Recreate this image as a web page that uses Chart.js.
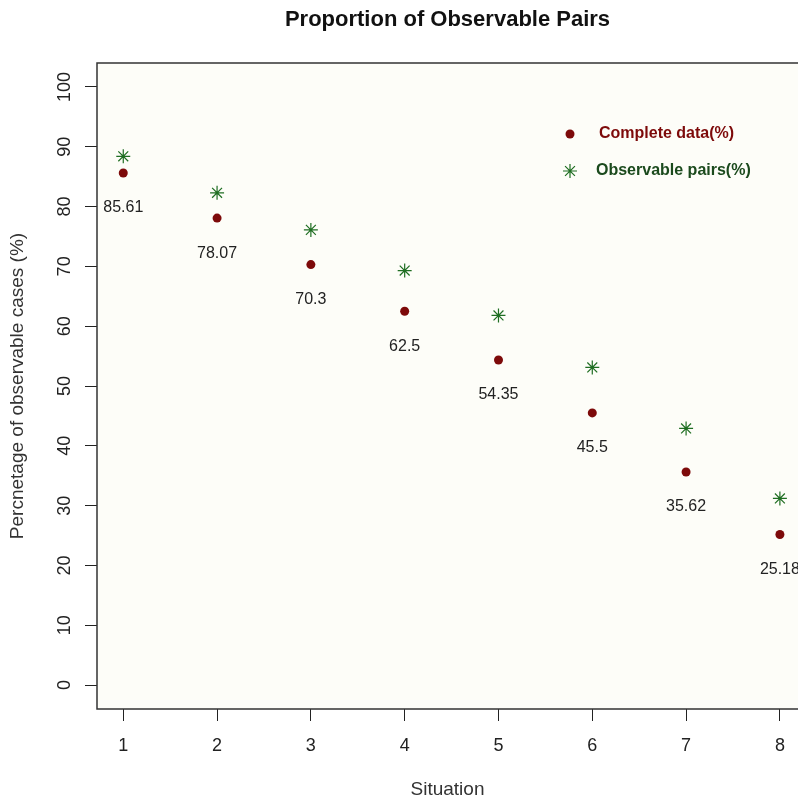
<!DOCTYPE html>
<html>
<head>
<meta charset="utf-8">
<script src="https://cdn.jsdelivr.net/npm/chart.js@4/dist/chart.umd.min.js"></script>
<style>
  html, body { margin: 0; padding: 0; background: #fff; overflow: hidden; }
</style>
</head>
<body>
<canvas id="chart" width="798" height="801"></canvas>
<script>
    const situations = [1, 2, 3, 4, 5, 6, 7, 8];
    const completeData = [85.61, 78.07, 70.3, 62.5, 54.35, 45.5, 35.62, 25.18];
    const observablePairs = [88.4, 82.3, 76.1, 69.3, 61.8, 53.1, 42.9, 31.2];
    const yTicks = [0, 10, 20, 30, 40, 50, 60, 70, 80, 90, 100];
    const xTicks = [1, 2, 3, 4, 5, 6, 7, 8];

    const darkRed = '#7d0a0a';
    const darkGreen = '#1f6e22';
    const fontFam = '"Liberation Sans", Arial, sans-serif';

    // plot background + box (right side is cut off in the original)
    const boxPlugin = {
        id: 'box',
        beforeDraw(chart) {
            const a = chart.chartArea;
            const ctx = chart.ctx;
            ctx.save();
            ctx.fillStyle = '#fdfdf8';
            ctx.fillRect(a.left, a.top, a.right - a.left, a.bottom - a.top);
            ctx.restore();
        },
        afterDraw(chart) {
            const a = chart.chartArea;
            const ctx = chart.ctx;
            ctx.save();
            ctx.strokeStyle = '#333';
            ctx.lineWidth = 1.5;
            ctx.beginPath();
            ctx.moveTo(a.right + 5, a.top);
            ctx.lineTo(a.left, a.top);
            ctx.lineTo(a.left, a.bottom);
            ctx.lineTo(a.right + 5, a.bottom);
            ctx.stroke();
            ctx.restore();
        }
    };

    // value labels under the red points
    const valueLabels = {
        id: 'valueLabels',
        afterDatasetsDraw(chart) {
            const ctx = chart.ctx;
            const meta = chart.getDatasetMeta(0);
            ctx.save();
            ctx.font = '16px ' + fontFam;
            ctx.fillStyle = '#222';
            ctx.textAlign = 'center';
            ctx.textBaseline = 'middle';
            meta.data.forEach((pt, i) => {
                ctx.fillText(String(completeData[i]), pt.x, pt.y + 35);
            });
            ctx.restore();
        }
    };

    // legend drawn inside the plot
    const insideLegend = {
        id: 'insideLegend',
        afterDraw(chart) {
            const ctx = chart.ctx;
            const a = chart.chartArea;
            const x = a.left + 473;
            const y1 = a.top + 71;
            const y2 = a.top + 108;
            ctx.save();
            ctx.fillStyle = darkRed;
            ctx.beginPath();
            ctx.arc(x, y1, 4.5, 0, Math.PI * 2);
            ctx.fill();

            ctx.strokeStyle = darkGreen;
            ctx.lineWidth = 1.2;
            const r = 7;
            ctx.beginPath();
            for (let k = 0; k < 4; k++) {
                const ang = k * Math.PI / 4;
                ctx.moveTo(x - r * Math.cos(ang), y2 - r * Math.sin(ang));
                ctx.lineTo(x + r * Math.cos(ang), y2 + r * Math.sin(ang));
            }
            ctx.stroke();

            ctx.font = 'bold 16px ' + fontFam;
            ctx.textBaseline = 'middle';
            ctx.textAlign = 'left';
            ctx.fillStyle = darkRed;
            ctx.fillText('Complete data(%)', x + 29, y1);
            ctx.fillStyle = '#1b4a1d';
            ctx.fillText('Observable pairs(%)', x + 26, y2);
            ctx.restore();
        }
    };

    const ctx = document.getElementById('chart').getContext('2d');
    const chart = new Chart(ctx, {
        type: 'scatter',
        data: {
            datasets: [{
                label: 'Complete data(%)',
                data: situations.map((s, i) => ({ x: s, y: completeData[i] })),
                pointStyle: 'circle',
                pointRadius: 4.5,
                backgroundColor: darkRed,
                borderColor: darkRed,
                borderWidth: 0
            }, {
                label: 'Observable pairs(%)',
                data: situations.map((s, i) => ({ x: s, y: observablePairs[i] })),
                pointStyle: 'star',
                pointRadius: 7,
                backgroundColor: darkGreen,
                borderColor: darkGreen,
                borderWidth: 1.2
            }]
        },
        options: {
            responsive: false,
            animation: false,
            layout: { padding: 0, autoPadding: false },
            plugins: {
                legend: { display: false },
                tooltip: { enabled: false },
                title: {
                    display: true,
                    fullSize: false,
                    text: 'Proportion of Observable Pairs',
                    color: '#111',
                    font: { family: fontFam, size: 22, weight: 'bold', lineHeight: 1 },
                    padding: { top: 9.3, bottom: 31.7 }
                }
            },
            scales: {
                x: {
                    type: 'linear',
                    min: 0.72,
                    max: 8.193,
                    afterBuildTicks: scale => { scale.ticks = xTicks.map(v => ({ value: v })); },
                    afterFit: scale => {
                        scale.height = 92;
                        scale.paddingLeft = 0;
                        scale.paddingRight = 0;
                    },
                    border: { display: false },
                    grid: { drawOnChartArea: false, drawTicks: true, tickLength: 12, color: '#222', lineWidth: 1 },
                    ticks: {
                        color: '#222',
                        padding: 14,
                        maxRotation: 0,
                        font: { family: fontFam, size: 18 }
                    },
                    title: {
                        display: true,
                        text: 'Situation',
                        color: '#333',
                        font: { family: fontFam, size: 19 },
                        padding: { top: 0, bottom: 0 }
                    }
                },
                y: {
                    min: -4,
                    max: 104,
                    afterBuildTicks: scale => { scale.ticks = yTicks.map(v => ({ value: v })); },
                    afterFit: scale => {
                        scale.width = 97;
                        scale.paddingTop = 0;
                        scale.paddingBottom = 0;
                    },
                    border: { display: false },
                    grid: { drawOnChartArea: false, drawTicks: true, tickLength: 12, color: '#222', lineWidth: 1 },
                    ticks: {
                        color: '#222',
                        padding: 5,
                        crossAlign: 'center',
                        minRotation: 90,
                        maxRotation: 90,
                        font: { family: fontFam, size: 18 }
                    },
                    title: {
                        display: true,
                        text: 'Percnetage of observable cases (%)',
                        color: '#333',
                        font: { family: fontFam, size: 19 },
                        padding: { top: 6, bottom: 0 }
                    }
                }
            }
        },
        plugins: [boxPlugin, valueLabels, insideLegend]
    });
</script>
</body>
</html>
